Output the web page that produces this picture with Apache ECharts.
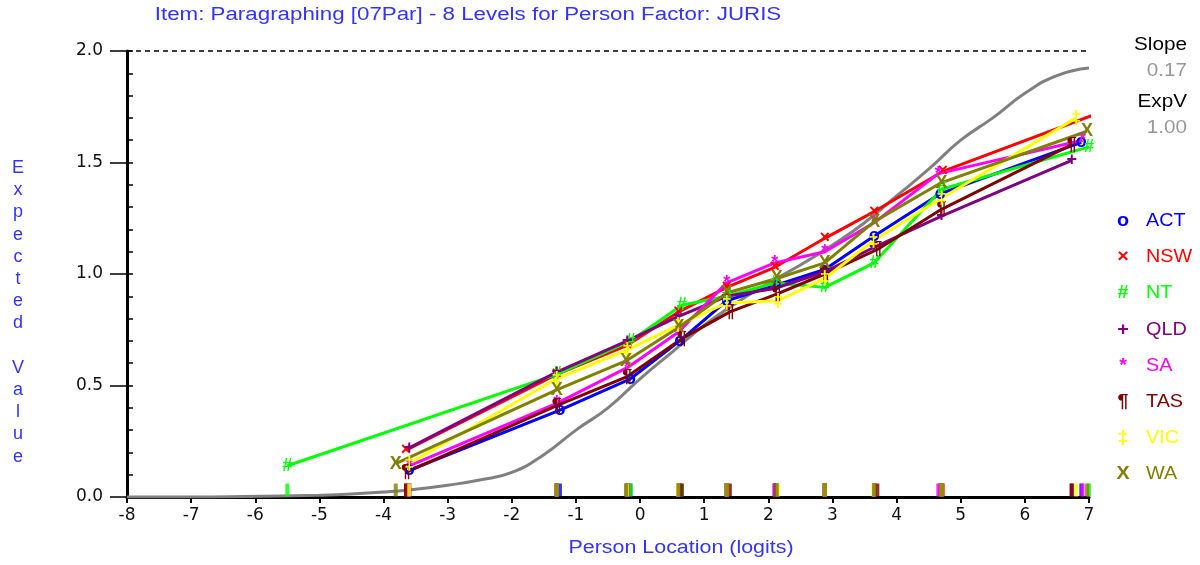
<!DOCTYPE html>
<html><head><meta charset="utf-8">
<script src="https://cdn.jsdelivr.net/npm/echarts@6/dist/echarts.min.js"></script>
<style>html,body{margin:0;padding:0;background:#fff}#c{width:1200px;height:565px}</style>
</head><body><div id="c"></div>
<script>
// ---- data ----
const groupNames = ['ACT','NSW','NT','QLD','SA','TAS','VIC','WA'];
const groupMarks = ['o','\u00d7','#','+','*','\u00b6','\u2021','X'];
const xACT = [-3.60,-1.25,-0.15,0.62,1.35,2.12,2.88,3.65,4.68,6.88];
const yACT = [0.12,0.39,0.53,0.70,0.88,0.95,1.02,1.17,1.36,1.59];
const xNSW = [-3.65,-1.30,-0.20,0.60,1.35,2.10,2.88,3.65,4.72,7.04];
const yNSW = [0.21,0.55,0.68,0.83,0.94,1.03,1.16,1.28,1.46,1.71];
const xNT  = [-5.50,-1.30,-0.15,0.65,1.35,2.10,2.88,3.65,4.70,7.00];
const yNT  = [0.14,0.55,0.70,0.86,0.90,0.96,0.94,1.05,1.38,1.57];
const xQLD = [-3.60,-1.30,-0.20,0.60,1.35,2.10,2.88,3.65,4.70,6.73];
const yQLD = [0.22,0.56,0.70,0.81,0.90,0.935,1.01,1.12,1.26,1.51];
const xSA  = [-3.60,-1.30,-0.20,0.60,1.35,2.10,2.88,3.65,4.65,6.90];
const ySA  = [0.14,0.42,0.58,0.74,0.96,1.05,1.10,1.23,1.45,1.60];
const xTAS = [-3.65,-1.30,-0.20,0.65,1.40,2.13,2.88,3.70,4.70,6.73];
const yTAS = [0.11,0.41,0.54,0.71,0.83,0.91,1.00,1.11,1.29,1.58];
const xVIC = [-3.60,-1.30,-0.20,0.59,1.35,2.15,2.88,3.64,4.70,6.80];
const yVIC = [0.15,0.53,0.66,0.77,0.87,0.88,0.98,1.15,1.34,1.70];
const xWA  = [-3.81,-1.30,-0.22,0.60,1.35,2.13,2.88,3.65,4.70,6.97];
const yWA  = [0.15,0.48,0.61,0.76,0.915,0.98,1.05,1.235,1.41,1.64];
const modelX = [-8,-7,-6.2,-5,-4.5,-4,-3.5,-3,-2.5,-2,-1.5,-1,-0.5,0,0.5,1,1.5,2,2.5,3,3.5,4,4.5,5,5.5,6,6.5,7];
const modelY = [0,0,0.002,0.008,0.013,0.022,0.035,0.053,0.076,0.11,0.19,0.30,0.40,0.53,0.65,0.77,0.87,0.96,1.04,1.13,1.23,1.35,1.47,1.60,1.70,1.81,1.89,1.924];
const xTicks = [-8,-7,-6,-5,-4,-3,-2,-1,0,1,2,3,4,5,6,7];
const slopeValue = '0.17';
const expVValue = '1.00';
// ---- styles ----
const colors = ['#0000ff','#ff0000','#00ff00','#800080','#ff00ff','#800000','#ffff00','#808000'];
const xs = [xACT,xNSW,xNT,xQLD,xSA,xTAS,xVIC,xWA];
const ys = [yACT,yNSW,yNT,yQLD,ySA,yTAS,yVIC,yWA];
const FONT = 'Arial, "Liberation Sans", sans-serif';
const AXFONT = '"DejaVu Sans", Arial, sans-serif';

const series = [];
series.push({
  type:'line', name:'model', data: modelX.map((x,i)=>[x,modelY[i]]), showSymbol:false, smooth:true,
  lineStyle:{color:'#808080', width:3}, z:2, silent:true,
  markLine:{symbol:'none', silent:true, label:{show:false},
    lineStyle:{color:'#000', type:[5,4], width:1.5}, data:[{yAxis:2}]}
});
groupNames.forEach((n,k)=>{
  series.push({
    type:'line', name:n, data: xs[k].map((x,i)=>[x,ys[k][i]]),
    symbol:'circle', symbolSize:0.1, showSymbol:true, showAllSymbol:true,
    lineStyle:{color:colors[k], width:3}, itemStyle:{color:colors[k]}, z:3,
    label:{show:true, position:'inside', formatter:groupMarks[k], color:colors[k],
      fontSize:18, fontWeight:'bold', fontFamily:FONT}
  });
});
groupNames.forEach((n,k)=>{
  series.push({
    type:'scatter', name:n+'tick', data: xs[k].map(x=>[x,0]),
    symbol:'rect', symbolSize:[4,13], symbolOffset:[0,-7],
    itemStyle:{color:colors[k]}, z:4, silent:true
  });
});

function txt(x,y,s,fill,size,align,sx,extra){
  return Object.assign({type:'text', x:x, y:y, scaleX:sx, originX:0, originY:0,
    style:Object.assign({text:s, fill:fill, font:size+'px '+FONT, textAlign:align, textVerticalAlign:'middle'}, extra||{})});
}
const graphic = [
  txt(468,15,'Item: Paragraphing [07Par] - 8 Levels for Person Factor: JURIS','#3333ff',18,'center',1.24),
  txt(681,548,'Person Location (logits)','#3333ff',18,'center',1.19),
  {type:'text', x:18, y:157, style:{text:'E\nx\np\ne\nc\nt\ne\nd\n \nV\na\nl\nu\ne', fill:'#3333ff',
    font:'18px '+FONT, textAlign:'center', textVerticalAlign:'top', lineHeight:22.2}},
  txt(1187,45,'Slope','#000',18,'right',1.15),
  txt(1187,71,slopeValue,'#999',18,'right',1.15),
  txt(1187,102,'ExpV','#000',18,'right',1.15),
  txt(1187,128,expVValue,'#999',18,'right',1.15)
];
groupNames.forEach((n,k)=>{
  const y = 221 + k*36.2;
  graphic.push(txt(1123,y,groupMarks[k],colors[k],18,'center',1.1,{font:'bold 18px '+FONT}));
  graphic.push(txt(1146,y,n,colors[k],18,'left',1.1));
});

const chart = echarts.init(document.getElementById('c'), null, {renderer:'canvas'});
chart.setOption({
  animation:false,
  backgroundColor:'#fff',
  grid:{left:127, right:111, top:51, bottom:68, containLabel:false},
  xAxis:{type:'value', min:-8, max:7, interval:1,
    axisLine:{show:true, onZero:false, lineStyle:{color:'#000', width:3}},
    axisTick:{show:true, length:6, lineStyle:{color:'#000', width:2}},
    axisLabel:{color:'#111', fontSize:17, fontFamily:AXFONT, margin:10,
      formatter:v=> xTicks.includes(v) ? String(v) : ''},
    splitLine:{show:false}},
  yAxis:[
    {type:'value', min:0, max:2, interval:0.5,
      axisLine:{show:true, onZero:false, lineStyle:{color:'#000', width:3}},
      axisTick:{show:true, length:17, lineStyle:{color:'#000', width:1.5}},
      axisLabel:{color:'#111', fontSize:17, fontFamily:AXFONT, margin:24, formatter:v=>v.toFixed(1)},
      splitLine:{show:false}},
    {type:'value', min:0, max:2, interval:0.1, position:'left',
      axisLine:{show:false, onZero:false}, axisTick:{show:true, inside:true, length:6, lineStyle:{color:'#000', width:1.5}},
      axisLabel:{show:false}, splitLine:{show:false}}
  ],
  series: series,
  graphic: graphic
});
</script></body></html>
